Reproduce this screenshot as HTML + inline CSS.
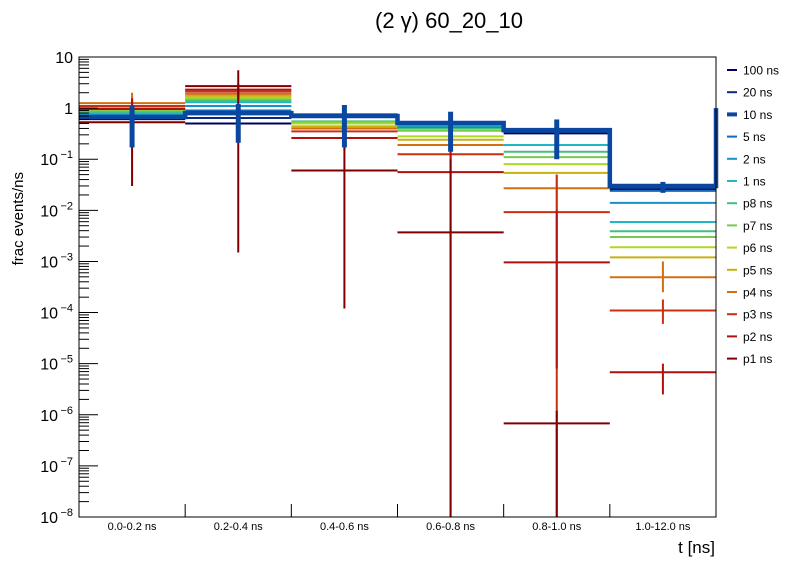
<!DOCTYPE html>
<html><head><meta charset="utf-8">
<style>
body{margin:0;background:#fff;}
svg text{font-family:"Liberation Sans",sans-serif;}
</style></head>
<body>
<svg id="chart" width="796" height="572" xmlns="http://www.w3.org/2000/svg">
<rect width="796" height="572" fill="#fff"/>
<text x="449" y="28" font-size="22" text-anchor="middle">(2 γ) 60_20_10</text>
<text transform="translate(23,172) rotate(-90)" font-size="15" text-anchor="end">frac events/ns</text>
<text x="715" y="553" font-size="17" text-anchor="end">t [ns]</text>
<g id="plot"></g>
<rect x="79" y="57" width="637" height="460" fill="none" stroke="#000" stroke-width="1"/>
<g id="axes"></g>
<g id="legend"></g>
</svg>
<script>
const categories=["0.0-0.2 ns","0.2-0.4 ns","0.4-0.6 ns","0.6-0.8 ns","0.8-1.0 ns","1.0-12.0 ns"];
const seriesNames=["100 ns","20 ns","10 ns","5 ns","2 ns","1 ns","p8 ns","p7 ns","p6 ns","p5 ns","p4 ns","p3 ns","p2 ns","p1 ns"];
const seriesColors=["#000060","#0a2a80","#0a47a0","#1868b8","#1890c8","#20b8c8","#40c080","#78c850","#b0d820","#c8b010","#d07010","#c83010","#b01010","#800000"];
const vals100=[0.61,0.50,0.68,0.44,0.32,0.025];
const vals20=[0.64,0.64,0.70,0.46,0.34,0.027];
const vals10=[0.67,0.80,0.70,0.51,0.37,0.030];
const vals5=[0.70,0.90,0.76,0.48,0.36,0.024];
const vals2=[0.75,1.10,0.74,0.47,0.35,0.014];
const vals1=[0.80,1.30,0.72,0.45,0.19,0.0059];
const valsP8=[0.85,1.40,0.55,0.40,0.14,0.0039];
const valsP7=[0.90,1.50,0.53,0.36,0.11,0.0030];
const valsP6=[0.95,1.60,0.50,0.28,0.08,0.0019];
const valsP5=[1.00,1.75,0.44,0.24,0.054,0.0012];
const valsP4=[1.25,1.90,0.40,0.19,0.027,0.00049];
const valsP3=[1.10,2.10,0.35,0.125,0.0092,0.00011];
const valsP2=[0.96,2.30,0.26,0.056,0.00096,0.0000068];
const valsP1=[0.53,2.70,0.06,0.0037,0.00000068,0];
const allVals=[vals100,vals20,vals10,vals5,vals2,vals1,valsP8,valsP7,valsP6,valsP5,valsP4,valsP3,valsP2,valsP1];
const errLo10=[0.17,0.21,0.17,0.14,0.10,0.022];
const errHi10=[1.1,1.2,1.15,0.85,0.6,0.036];
const errLoP1=[0.03,0.0015,0.00012,1e-9,1e-9,null];
const errHiP1=[1.0,5.5,0.3,0.1,0.0000012,null];
const errLoP2=[0.5,1.5,0.15,1e-9,0.000008,0.0000025];
const errHiP2=[1.5,3.0,0.4,0.5,0.01,0.00001];
const errLoP3=[0.6,1.5,0.2,0.05,1e-9,0.00006];
const errHiP3=[1.6,2.8,0.5,0.3,0.05,0.00018];
const errLoP4=[0.8,1.4,0.25,0.1,0.01,0.00025];
const errHiP4=[2.0,2.6,0.55,0.3,0.05,0.001];
const yTickExp=[-8,-7,-6,-5,-4,-3,-2,-1,0,1];

const NS="http://www.w3.org/2000/svg";
const X0=79,X1=716,Y0=517,Y1=57,LMIN=-8,LMAX=1;
function xPos(i){return X0+(X1-X0)*i/categories.length;}
function yPos(v){let l=Math.log10(Math.max(v,1e-9));l=Math.max(LMIN,Math.min(LMAX,l));return Y0-(l-LMIN)/(LMAX-LMIN)*(Y0-Y1);}
function mk(tag,attrs,parent){const e=document.createElementNS(NS,tag);for(const k in attrs)e.setAttribute(k,attrs[k]);parent.appendChild(e);return e;}
const plot=document.getElementById('plot'),axes=document.getElementById('axes'),leg=document.getElementById('legend');

function drawSeries(si,w){
  const v=allVals[si],c=seriesColors[si];
  for(let i=0;i<v.length;i++){
    if(!(v[i]>0))continue;
    const y=yPos(v[i]);
    const ln=mk('line',{x1:xPos(i),x2:xPos(i+1),y1:y,y2:y,stroke:c,'stroke-width':w},plot);
    
    
  }
}
function drawErr(si,lo,hi,w){
  const c=seriesColors[si];
  for(let i=0;i<lo.length;i++){
    if(lo[i]==null)continue;
    const xc=(xPos(i)+xPos(i+1))/2;
    const e=mk('line',{x1:xc,x2:xc,y1:yPos(lo[i]),y2:yPos(hi[i]),stroke:c,'stroke-width':w},plot);
    
    
  }
}
const order=[0,1,3,4,5,6,7,8,9,10,11,12,13];
order.forEach(si=>drawSeries(si,2));
drawErr(10,errLoP4,errHiP4,2);
drawErr(11,errLoP3,errHiP3,2);
drawErr(12,errLoP2,errHiP2,2);
drawErr(13,errLoP1,errHiP1,2);
// 10 ns step histogram
let d='M'+X0+','+yPos(vals10[0]);
for(let i=0;i<vals10.length;i++){d+=' L'+xPos(i)+','+yPos(vals10[i])+' L'+xPos(i+1)+','+yPos(vals10[i]);}
d+=' L'+X1+','+yPos(1);
const step=mk('path',{d:d,fill:'none',stroke:seriesColors[2],'stroke-width':4.5},plot);


drawErr(2,errLo10,errHi10,5);

// y ticks
for(const ex of yTickExp){
  const y=yPos(Math.pow(10,ex));
  const t=mk('line',{x1:X0,x2:X0+19,y1:y,y2:y,stroke:'#000'},axes);
  
  
  const lab=mk('text',{x:X0-6,y:y+6,'font-size':16,'text-anchor':'end'},axes);
  
  
  if(ex===0)lab.textContent='1';else if(ex===1)lab.textContent='10';
  else{lab.setAttribute('x',X0-6-(String(ex).length*7.5));lab.textContent='10';
    const s=mk('text',{x:X0-6,y:y-1,'font-size':11,'text-anchor':'end'},axes);
    
    
    s.textContent=String(ex).replace('-','−');}
  if(ex<LMAX){for(let m=2;m<=9;m++){const ym=yPos(m*Math.pow(10,ex));
    const mt=mk('line',{x1:X0,x2:X0+10,y1:ym,y2:ym,stroke:'#000'},axes);
    
    }}
}
// x ticks & labels
for(let i=0;i<=categories.length;i++){
  const x=xPos(i);
  const t=mk('line',{x1:x,x2:x,y1:Y0,y2:Y0-13,stroke:'#000'},axes);
  
  
}
categories.forEach((c,i)=>{
  const t=mk('text',{x:(xPos(i)+xPos(i+1))/2,y:530,'font-size':11,'text-anchor':'middle'},axes);
  
  
  t.textContent=c;
});
// legend
seriesNames.forEach((n,i)=>{
  const y=70+i*22.2;
  const g=mk('g',{},leg);
  
  
  mk('line',{x1:727,x2:737,y1:y,y2:y,stroke:seriesColors[i],'stroke-width':i===2?4:2},g);
  const t=mk('text',{x:743,y:y+4.5,'font-size':12},g);
  t.textContent=n;
});
</script>
</body></html>
